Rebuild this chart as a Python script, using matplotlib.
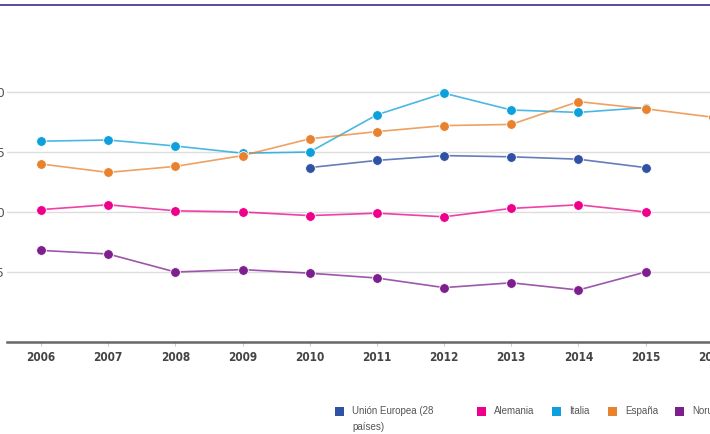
import numpy as np
import matplotlib
matplotlib.use("Agg")
from matplotlib import pyplot as plt
from matplotlib.lines import Line2D
from matplotlib.patches import Rectangle

plt.rcParams['font.family'] = ['DejaVu Sans']

# datos: riesgo de pobreza o exclusión social (%)
years = [2006, 2007, 2008, 2009, 2010, 2011, 2012, 2013, 2014, 2015, 2016]
ue28 = [np.nan, np.nan, np.nan, np.nan, 23.7, 24.3, 24.7, 24.6, 24.4, 23.7, np.nan]
alemania = [20.2, 20.6, 20.1, 20.0, 19.7, 19.9, 19.6, 20.3, 20.6, 20.0, np.nan]
italia = [25.9, 26.0, 25.5, 24.9, 25.0, 28.1, 29.9, 28.5, 28.3, 28.7, np.nan]
espana = [24.0, 23.3, 23.8, 24.7, 26.1, 26.7, 27.2, 27.3, 29.2, 28.6, 27.9]
noruega = [16.8, 16.5, 15.0, 15.2, 14.9, 14.5, 13.7, 14.1, 13.5, 15.0, np.nan]

labels = ['Unión Europea (28\npaíses)', 'Alemania', 'Italia', 'España', 'Noruega']
colors = ['#2f52a4', '#ec008c', '#0ea0dc', '#e8822e', '#7d1f8e']
series = [ue28, alemania, italia, espana, noruega]
yticks = [15, 20, 25, 30]

W, H = 710, 434
fig = plt.figure(figsize=(W / 100, H / 100), dpi=100)
# el gráfico está recortado: los ejes se salen por la izquierda y la derecha
ax = fig.add_axes([7.4 / W, 92 / H, 739 / W, 280 / H])
ax.set_xlim(2005.5, 2016.5)
ax.set_ylim(30 - 250 / 12, 30 + 30 / 12)

for vals, c in zip(series, colors):
    ax.plot(years, vals, color=c, lw=1.2, alpha=0.75, zorder=3)
    ax.plot(years, vals, 'o', color=c, ms=7, mec='white', mew=0.6, zorder=4)

ax.set_yticks(yticks)
ax.set_yticklabels([str(v) for v in yticks], fontsize=9, color='#555555')
ax.grid(axis='y', color='#dddddd', lw=1)
ax.set_axisbelow(True)
ax.tick_params(axis='y', length=0, pad=2)

ax.set_xticks(years)
ax.set_xticklabels([str(y) for y in years], fontsize=8.5, fontweight='bold',
                   fontstretch='condensed', color='#444444')
ax.tick_params(axis='x', length=3, color='#cccccc', pad=3.5)

for s in ['top', 'right', 'left']:
    ax.spines[s].set_visible(False)
ax.spines['bottom'].set_color('#666666')
ax.spines['bottom'].set_linewidth(1.8)

# línea superior
fig.add_artist(Line2D([0, 1], [1 - 4.5 / H, 1 - 4.5 / H], color='#4a3d99', lw=1.3))

# leyenda
legend_x = [335, 477, 552, 608, 675]
for x0, lab, c in zip(legend_x, labels, colors):
    fig.add_artist(Rectangle((x0 / W, 1 - 415.5 / H), 9 / W, 9 / H, color=c, lw=0))
    fig.text((x0 + 17) / W, 1 - 405.5 / H, lab, fontsize=7, color='#555555',
             family=['Liberation Sans', 'DejaVu Sans'],
             va='top', ha='left', linespacing=1.75)

fig.savefig('out.png', dpi=100)
